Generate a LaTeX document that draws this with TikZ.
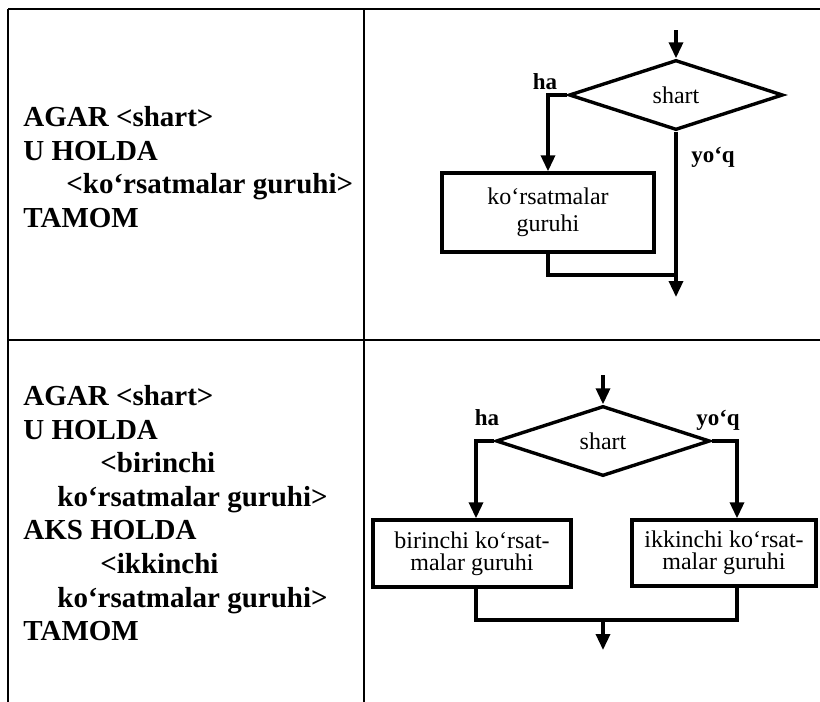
\documentclass[tikz,border=0pt]{standalone}
\usepackage{fontspec}
\setmainfont{Liberation Serif}
\usepackage{tikz}
\usetikzlibrary{shapes.geometric, arrows.meta}

\begin{document}
\begin{tikzpicture}[
  x=0.5pt, y=-0.5pt,
  tableline/.style={line width=1.3pt},
  cond/.style={diamond, draw, line width=1.7pt, inner sep=0pt, minimum width=107pt, minimum height=35pt, font=\fontsize{12}{13.5}\selectfont},
  block/.style={rectangle, draw, line width=1.7pt, align=center, inner sep=0pt, font=\fontsize{12}{13.5}\selectfont},
  answer/.style={anchor=base, inner sep=0pt, font=\bfseries\fontsize{11.5}{12}\selectfont},
  code/.style={anchor=north west, align=left, inner sep=0pt, font=\bfseries\fontsize{14.5}{16.8}\selectfont},
  arrow/.style={-{Triangle[width=7pt,length=8pt]}, line width=1.7pt},
  flow/.style={line width=1.7pt}
]
\useasboundingbox (0,0) rectangle (820,702);

% Table
\draw[tableline] (8,9) -- (820,9);
\draw[tableline] (8,340) -- (820,340);
\draw[tableline] (8,9) -- (8,702);
\draw[tableline] (364,9) -- (364,702);

% Row 1: short form
\node[code] (code1) at (23,106) {AGAR <shart>\\U HOLDA\\\hspace*{21.5pt}<ko‘rsatmalar guruhi>\\TAMOM};

\coordinate (in1) at (676,30);
\node[cond] (if1) at (676,95) {shart};
\node[block, minimum width=106pt, minimum height=39.5pt] (body1) at (548,212.5) {ko‘rsatmalar\\guruhi};
\coordinate (m1) at (676,275);
\coordinate (out1) at (676,297);
\node[answer] (yes1) at (545,89) {ha};
\node[answer] (no1) at (713,162) {yo‘q};

\draw[arrow] (in1) -- (if1.north);
\draw[arrow] (if1.west) -| (body1.north);
\draw[arrow] (if1.south) -- (out1);
\draw[flow] (body1.south) |- (m1);

% Row 2: full form
\node[code] (code2) at (23,385) {AGAR <shart>\\U HOLDA\\\hspace*{38.5pt}<birinchi\\\hspace*{17pt}ko‘rsatmalar guruhi>\\AKS HOLDA\\\hspace*{38.5pt}<ikkinchi\\\hspace*{17pt}ko‘rsatmalar guruhi>\\TAMOM};

\coordinate (in2) at (603,375);
\node[cond] (if2) at (603,441) {shart};
\node[block, minimum width=99pt, minimum height=33.5pt, font=\fontsize{12}{11}\selectfont] (body2) at (472,553.5) {birinchi ko‘rsat-\\malar guruhi};
\node[block, minimum width=92pt, minimum height=33pt, font=\fontsize{12}{11}\selectfont] (body3) at (724,553) {ikkinchi ko‘rsat-\\malar guruhi};
\coordinate (j2) at (603,620);
\coordinate (out2) at (603,650);
\node[answer] (yes2) at (487,425) {ha};
\node[answer] (no2) at (718,425) {yo‘q};

\draw[arrow] (in2) -- (if2.north);
\draw[arrow] (if2.west) -| ([xshift=2pt]body2.north);
\draw[arrow] (if2.east) -| ([xshift=6.5pt]body3.north);
\draw[flow] ([xshift=2pt]body2.south) |- (j2) -| ([xshift=6.5pt]body3.south);
\draw[arrow] (j2) -- (out2);
\end{tikzpicture}
\end{document}
